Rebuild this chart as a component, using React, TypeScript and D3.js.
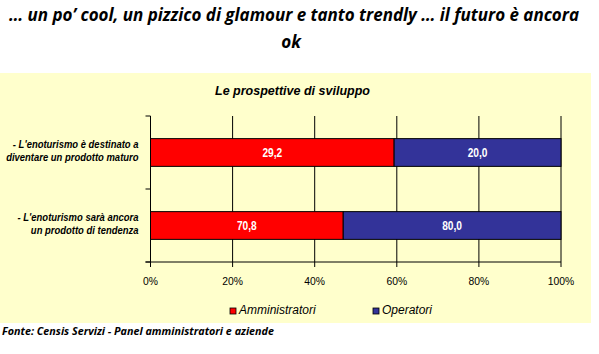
import React from "react";
import * as d3 from "d3";

const categories = [
  ["- L'enoturismo è destinato a", "diventare un prodotto maturo"],
  ["- L'enoturismo sarà ancora", "un prodotto di tendenza"],
];
const amministratori = [29.2, 70.8];
const operatori = [20.0, 80.0];
const seriesNames = ["Amministratori", "Operatori"];
const seriesColors = ["#FF0000", "#333399"];
const xTicks = [0, 0.2, 0.4, 0.6, 0.8, 1];
const mainTitle = ["… un po’ cool, un pizzico di glamour  e tanto trendly … il futuro è ancora", "ok"];
const chartTitle = "Le prospettive di sviluppo";
const source = "Fonte: Censis Servizi - Panel amministratori e aziende";

const W = 599;
const H = 354;
const arial = "'Liberation Sans', Arial, sans-serif";
const calibri = "'Open Sans', sans-serif";

export default function App() {
  const x = d3.scaleLinear().domain([0, 1]).range([150.5, 561]);
  const y = d3
    .scaleBand<number>()
    .domain(categories.map((_, i) => i))
    .range([116, 262])
    .paddingInner(0.62)
    .paddingOuter(0.31);

  const rows = categories.map((c, i) => {
    const tot = amministratori[i] + operatori[i];
    const a = amministratori[i] / tot;
    return { i, a, vals: [amministratori[i], operatori[i]], segs: [[0, a], [a, 1]] };
  });
  const fmt = (v: number) => d3.format(".1f")(v).replace(".", ",");
  const step = y.step();

  return (
    <svg width={W} height={H} style={{ position: "absolute", left: 0, top: 0 }}>
      <rect x={0} y={0} width={W} height={H} fill="#fff" />
      <rect x={0} y={73} width={591} height={250} fill="#FFFFCC" />
      <text
        x={294}
        y={21}
        textAnchor="middle"
        fontFamily={calibri}
        fontWeight="bold"
        fontStyle="italic"
        fontSize={17}
        textLength={570}
        lengthAdjust="spacingAndGlyphs"
        fill="#000"
      >
        {mainTitle[0]}
      </text>
      <text
        x={291}
        y={48}
        textAnchor="middle"
        fontFamily={calibri}
        fontWeight="bold"
        fontStyle="italic"
        fontSize={17}
        fill="#000"
      >
        {mainTitle[1]}
      </text>
      <text
        x={292.5}
        y={95}
        textAnchor="middle"
        fontFamily={arial}
        fontWeight="bold"
        fontStyle="italic"
        fontSize={12.5}
        fill="#000"
      >
        {chartTitle}
      </text>

      {/* gridlines */}
      {xTicks.map((t) => (
        <line key={"g" + t} x1={x(t)} x2={x(t)} y1={116} y2={267} stroke="#000" strokeWidth={1} />
      ))}
      {/* category ticks */}
      {[0, 1, 2].map((k) => (
        <line key={"c" + k} x1={145.5} x2={x(0)} y1={116 + k * step} y2={116 + k * step} stroke="#000" strokeWidth={1} />
      ))}
      <line x1={145.5} x2={x(1)} y1={262} y2={262} stroke="#000" strokeWidth={1} />

      {rows.map((r) =>
        r.segs.map((s, k) => {
          const cx = (x(s[0]) + x(s[1])) / 2;
          const cy = y(r.i)! + y.bandwidth() / 2 + 4;
          return (
            <g key={r.i + "-" + k}>
              <rect
                x={x(s[0])}
                y={y(r.i)!}
                width={x(s[1]) - x(s[0])}
                height={y.bandwidth()}
                fill={seriesColors[k]}
                stroke="#000"
                strokeWidth={1}
              />
              <g transform={`translate(${cx},${cy}) scale(0.85,1)`}>
                <text
                  x={0}
                  y={0}
                  textAnchor="middle"
                  fontFamily={arial}
                  fontWeight="bold"
                  fontSize={12}
                  fill="#fff"
                >
                  {fmt(r.vals[k])}
                </text>
              </g>
            </g>
          );
        })
      )}

      {categories.map((c, i) => (
        <g key={"l" + i} transform={`translate(138.5,${y(i)! + y.bandwidth() / 2 - 5}) scale(0.86,1)`}>
          <text
            x={0}
            y={0}
            textAnchor="end"
            fontFamily={arial}
            fontWeight="bold"
            fontStyle="italic"
            fontSize={11}
            fill="#000"
          >
            <tspan x={0}>{c[0]}</tspan>
            <tspan x={0} dy={14}>{c[1]}</tspan>
          </text>
        </g>
      ))}

      {xTicks.map((t) => (
        <g key={"t" + t} transform={`translate(${x(t)},285) scale(0.9,1)`}>
          <text x={0} y={0} textAnchor="middle" fontFamily={arial} fontSize={11.5} fill="#000">
            {d3.format(".0%")(t)}
          </text>
        </g>
      ))}

      {seriesNames.map((n, k) => {
        const lx = [230, 373][k];
        return (
          <g key={"lg" + n}>
            <rect x={lx} y={308} width={6} height={6} fill={seriesColors[k]} stroke="#000" strokeWidth={0.8} />
            <text x={lx + 9} y={314} fontFamily={arial} fontStyle="italic" fontSize={12} fill="#000">
              {n}
            </text>
          </g>
        );
      })}

      <text
        x={2}
        y={335}
        fontFamily={calibri}
        fontWeight="bold"
        fontStyle="italic"
        fontSize={11}
        textLength={272}
        lengthAdjust="spacingAndGlyphs"
        fill="#000"
      >
        {source}
      </text>
    </svg>
  );
}
